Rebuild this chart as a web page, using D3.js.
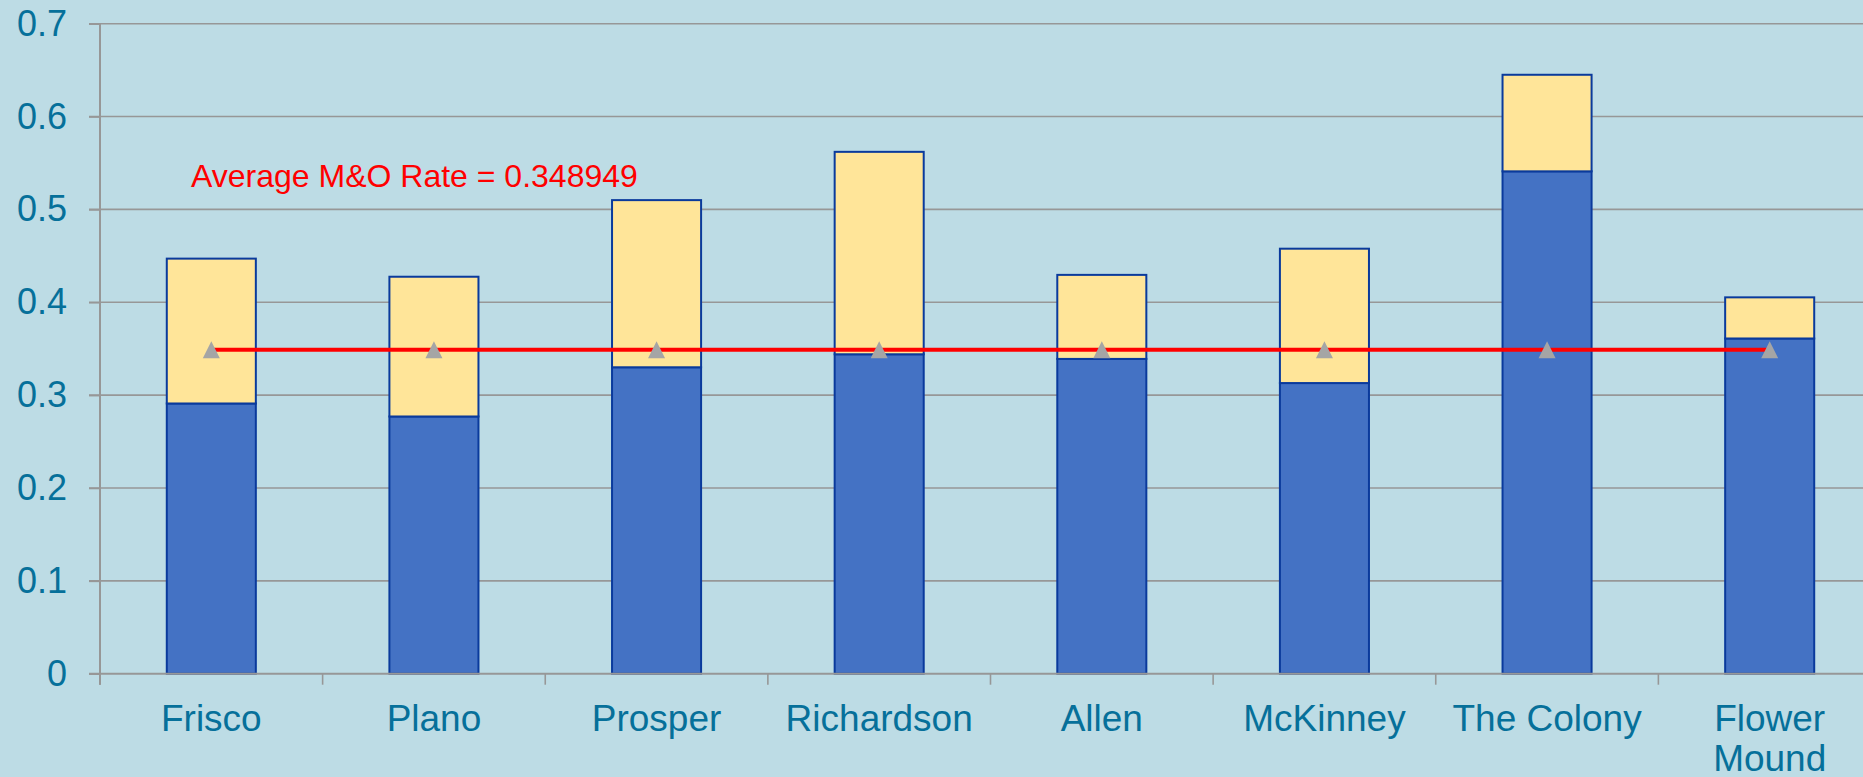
<!DOCTYPE html>
<html>
<head>
<meta charset="utf-8">
<script src="https://cdn.jsdelivr.net/npm/d3@7"></script>
<style>
  html, body { margin: 0; padding: 0; background: #bddce5; overflow: hidden; }
  svg { display: block; font-family: Arial, "Liberation Sans", sans-serif; }
</style>
</head>
<body>
<svg id="chart" width="1863" height="777"></svg>
<script>
// ---- data ----
const categories = ["Frisco", "Plano", "Prosper", "Richardson", "Allen", "McKinney", "The Colony", "Flower Mound"];
const moRate = [0.291, 0.277, 0.330, 0.344, 0.339, 0.313, 0.541, 0.361];   // blue (M&O)
const isRate = [0.156, 0.1505, 0.180, 0.218, 0.0905, 0.1447, 0.104, 0.0443]; // yellow (I&S)
const averageMO = 0.348949;
const yTicks = [0, 0.1, 0.2, 0.3, 0.4, 0.5, 0.6, 0.7];
const annotation = "Average M&O Rate = 0.348949";

// ---- layout ----
const W = 1863, H = 777;
const svg = d3.select("#chart");
svg.append("rect").attr("width", W).attr("height", H).attr("fill", "#bddce5");

const xb = d3.scaleBand().domain(categories).range([100, 1881]).padding(0);
const y = d3.scaleLinear().domain([0, 0.7]).range([673.7, 23.7]);

const textColor = "#06709a";
const gridColor = "#979797";

// gridlines
svg.append("g").selectAll("line").data(yTicks.slice(1)).join("line")
  .attr("x1", 89).attr("x2", W)
  .attr("y1", d => y(d)).attr("y2", d => y(d))
  .attr("stroke", gridColor).attr("stroke-width", 1.6);

// stacked bars
const stackData = categories.map((c, i) => ({ cat: c, mo: moRate[i], is: isRate[i] }));
const stack = d3.stack().keys(["mo", "is"])(stackData);
const fills = { mo: "#4472c4", is: "#ffe599" };
svg.append("g").selectAll("g").data(stack).join("g")
  .attr("fill", d => fills[d.key])
  .selectAll("rect").data(d => d).join("rect")
  .attr("x", d => xb(d.data.cat) + xb.bandwidth() * 0.3)
  .attr("width", xb.bandwidth() * 0.4)
  .attr("y", d => y(d[1]))
  .attr("height", d => y(d[0]) - y(d[1]))
  .attr("stroke", "#0a3a9c").attr("stroke-width", 2);

// y axis
const yAxis = svg.append("g").attr("transform", "translate(100,0)")
  .call(d3.axisLeft(y).tickValues(yTicks).tickSize(11).tickPadding(22).tickFormat(d => d === 0 ? "0" : d3.format(".1f")(d)));
yAxis.select(".domain").attr("stroke", gridColor).attr("stroke-width", 2).attr("d", `M0,${y(0.7)}V${y(0) + 11}`);
yAxis.selectAll(".tick line").attr("stroke", gridColor).attr("stroke-width", 1.6);
yAxis.selectAll(".tick text").attr("fill", textColor).attr("font-size", 36).attr("font-family", "Arial, 'Liberation Sans', sans-serif");

// x axis
const xAxis = svg.append("g").attr("transform", `translate(0,${y(0)})`)
  .call(d3.axisBottom(xb).tickSize(0).tickPadding(0));
xAxis.select(".domain").attr("stroke", gridColor).attr("stroke-width", 2).attr("d", `M89,0H${W}`);
xAxis.selectAll(".tick line").remove();
// category boundary ticks
svg.append("g").selectAll("line").data(categories).join("line")
  .attr("x1", d => xb(d)).attr("x2", d => xb(d))
  .attr("y1", y(0)).attr("y2", y(0) + 11)
  .attr("stroke", gridColor).attr("stroke-width", 1.6);

xAxis.selectAll(".tick text")
  .attr("fill", textColor).attr("font-size", 37).attr("font-family", "Arial, 'Liberation Sans', sans-serif")
  .attr("dy", null).attr("y", 57)
  .each(function(d) {
    const t = d3.select(this);
    if (this.getComputedTextLength() > xb.bandwidth()) {
      const words = d.split(" ");
      t.text(null);
      words.forEach((w, i) => {
        t.append("tspan").attr("x", 0).attr("y", 57 + i * 40.5).text(w);
      });
    }
  });

// average line
const lineGen = d3.line().x(d => xb(d) + xb.bandwidth() / 2).y(() => y(averageMO));
svg.append("path").datum(categories).attr("d", lineGen)
  .attr("fill", "none").attr("stroke", "#ff0000").attr("stroke-width", 4);

// markers
const tw = 17, th = 17;
svg.append("g").selectAll("path").data(categories).join("path")
  .attr("transform", d => `translate(${xb(d) + xb.bandwidth() / 2},${y(averageMO)})`)
  .attr("d", `M0,${-th / 2}L${tw / 2},${th / 2}L${-tw / 2},${th / 2}Z`)
  .attr("fill", "#a5a5a5");

// annotation
svg.append("text").attr("x", 191).attr("y", 187)
  .attr("fill", "#ff0000").attr("font-size", 32)
  .text(annotation);
</script>
</body>
</html>
